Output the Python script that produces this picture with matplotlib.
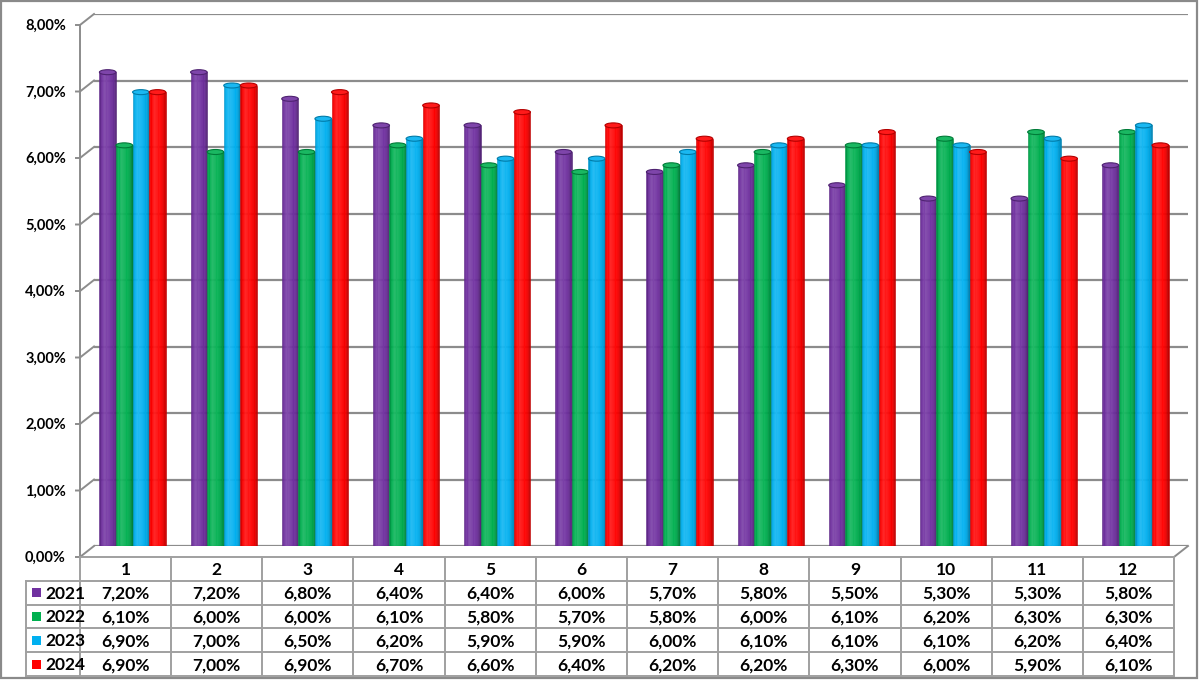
import numpy as np
import matplotlib
matplotlib.use("Agg")
import matplotlib.pyplot as plt
from matplotlib import transforms
from matplotlib.patches import Ellipse, Rectangle
from matplotlib.colors import to_rgb

# Dados
months = [str(i) for i in range(1, 13)]
years = ['2021', '2022', '2023', '2024']
v2021 = [7.2, 7.2, 6.8, 6.4, 6.4, 6.0, 5.7, 5.8, 5.5, 5.3, 5.3, 5.8]
v2022 = [6.1, 6.0, 6.0, 6.1, 5.8, 5.7, 5.8, 6.0, 6.1, 6.2, 6.3, 6.3]
v2023 = [6.9, 7.0, 6.5, 6.2, 5.9, 5.9, 6.0, 6.1, 6.1, 6.1, 6.2, 6.4]
v2024 = [6.9, 7.0, 6.9, 6.7, 6.6, 6.4, 6.2, 6.2, 6.3, 6.0, 5.9, 6.1]
series = [v2021, v2022, v2023, v2024]
colors = ['#7030A0', '#00B050', '#00B0F0', '#FF0000']
y_ticks = [0, 1, 2, 3, 4, 5, 6, 7, 8]

plt.rcParams['font.family'] = ['Lato', 'DejaVu Sans']
grid_c = '#8c8c8c'
line_c = '#a0a0a0'

W, H = 1200, 680
fig = plt.figure(figsize=(W / 100, H / 100), dpi=100)
fig.patch.set_facecolor('white')

# parede do fundo
ax = fig.add_axes([94 / W, 134 / H, 1094 / W, 532 / H])
ax.axis('off')
for v in y_ticks:
    ax.axhline(v, color=grid_c, lw=1.6, zorder=1)


def shifted(dx, dy):
    return ax.transData + transforms.ScaledTranslation(dx / 100, -dy / 100, fig.dpi_scale_trans)


front = shifted(-14, 11)
mid = shifted(-7, 5)

ax.set_xlim(-0.5, 11.5)
ax.set_ylim(0, 8)
px_per_unit = ax.get_window_extent().height / 8
eh = 5 / px_per_unit
bw = 0.182
n_strips = 14


def shades(color):
    t = (np.arange(n_strips) + 0.5) / n_strips
    s = np.interp(t, [0, .08, .3, .6, .85, 1], [-.22, -.04, .12, .03, -.08, -.3])[:, None]
    base = np.array(to_rgb(color))[None, :]
    return np.where(s > 0, base + (1 - base) * s, base * (1 + s))


def cylinder(x0, v, color, z):
    base = np.array(to_rgb(color))
    sw = bw / n_strips
    # fundo arredondado
    ax.add_patch(Ellipse((x0 + bw / 2, 0), bw, eh, transform=mid,
                         facecolor=base * 0.85, edgecolor='none', zorder=z))
    ax.bar(x0 + sw * (np.arange(n_strips) + 0.5), [v] * n_strips, width=sw,
           color=shades(color), edgecolor=shades(color), lw=0.4,
           transform=mid, zorder=z + 0.0005)
    ax.add_patch(Ellipse((x0 + bw / 2, v), bw, eh, transform=mid,
                         facecolor=base + (1 - base) * 0.1, edgecolor=base * 0.7,
                         lw=0.8, zorder=z + 0.001))


for i in range(len(months)):
    for k, (vals, c) in enumerate(zip(series, colors)):
        x0 = i + (k - 2) * bw
        cylinder(x0, vals[i], c, 3 + i * 0.01 + k * 0.002)

ax.set_xlim(-0.5, 11.5)
ax.set_ylim(0, 8)

# camada em pixels para eixo, parede lateral e tabela
ov = fig.add_axes([0, 0, 1, 1])
ov.set_xlim(0, W)
ov.set_ylim(H, 0)
ov.axis('off')


def to_px(trans, x, y):
    X, Y = trans.transform((x, y))
    return X, H - Y


for v in y_ticks:
    bx, by = to_px(ax.transData, -0.5, v)
    fx, fy = to_px(front, -0.5, v)
    ov.plot([fx - 4, fx, bx], [fy, fy, by], color=grid_c, lw=1.4)
    ov.text(fx - 14, fy + 1, f"{v:.2f}%".replace('.', ','), ha='right', va='center',
            fontsize=10.5, fontweight='bold', color='black')

fx0, fy_top = to_px(front, -0.5, 8)
_, fy0 = to_px(front, -0.5, 0)
ov.plot([fx0, fx0], [fy_top, fy0], color=grid_c, lw=1.4)

# borda direita do chão
rx, ry = to_px(front, 11.5, 0)
bx, by = to_px(ax.transData, 11.5, 0)
ov.plot([rx, bx], [ry, by], color=grid_c, lw=1.4)

# tabela de dados
xs = [to_px(front, i - 0.5, 0)[0] for i in range(len(months) + 1)]
row_h = 23.8
rows = [fy0 + row_h * r for r in range(len(years) + 2)]
leg_x = 26
for r, y in enumerate(rows):
    x_start = xs[0] if r == 0 else leg_x
    ov.plot([x_start, xs[-1]], [y, y], color=line_c, lw=1.4)
for x in xs:
    ov.plot([x, x], [rows[0], rows[-1]], color=line_c, lw=1.4)
ov.plot([leg_x, leg_x], [rows[1], rows[-1]], color=line_c, lw=1.4)

for i, m in enumerate(months):
    cx = (xs[i] + xs[i + 1]) / 2
    ov.text(cx, (rows[0] + rows[1]) / 2 + 1, m, ha='center', va='center',
            fontsize=12.5, fontweight='bold')
    for k, vals in enumerate(series):
        cy = (rows[k + 1] + rows[k + 2]) / 2 + 1
        ov.text(cx, cy, f"{vals[i]:.2f}%".replace('.', ','), ha='center', va='center',
                fontsize=12.5, fontweight='bold')

for k, (yr, c) in enumerate(zip(years, colors)):
    cy = (rows[k + 1] + rows[k + 2]) / 2
    ov.add_patch(Rectangle((31.5, cy - 4.5), 9, 9, facecolor=c, edgecolor='none'))
    ov.text(45, cy + 1, yr, ha='left', va='center', fontsize=12.5, fontweight='bold')

# moldura
ov.add_patch(Rectangle((1, 1), W - 4, H - 3, fill=False, edgecolor='#8a8a8a', lw=1.6))

fig.savefig('out.png', dpi=100)
